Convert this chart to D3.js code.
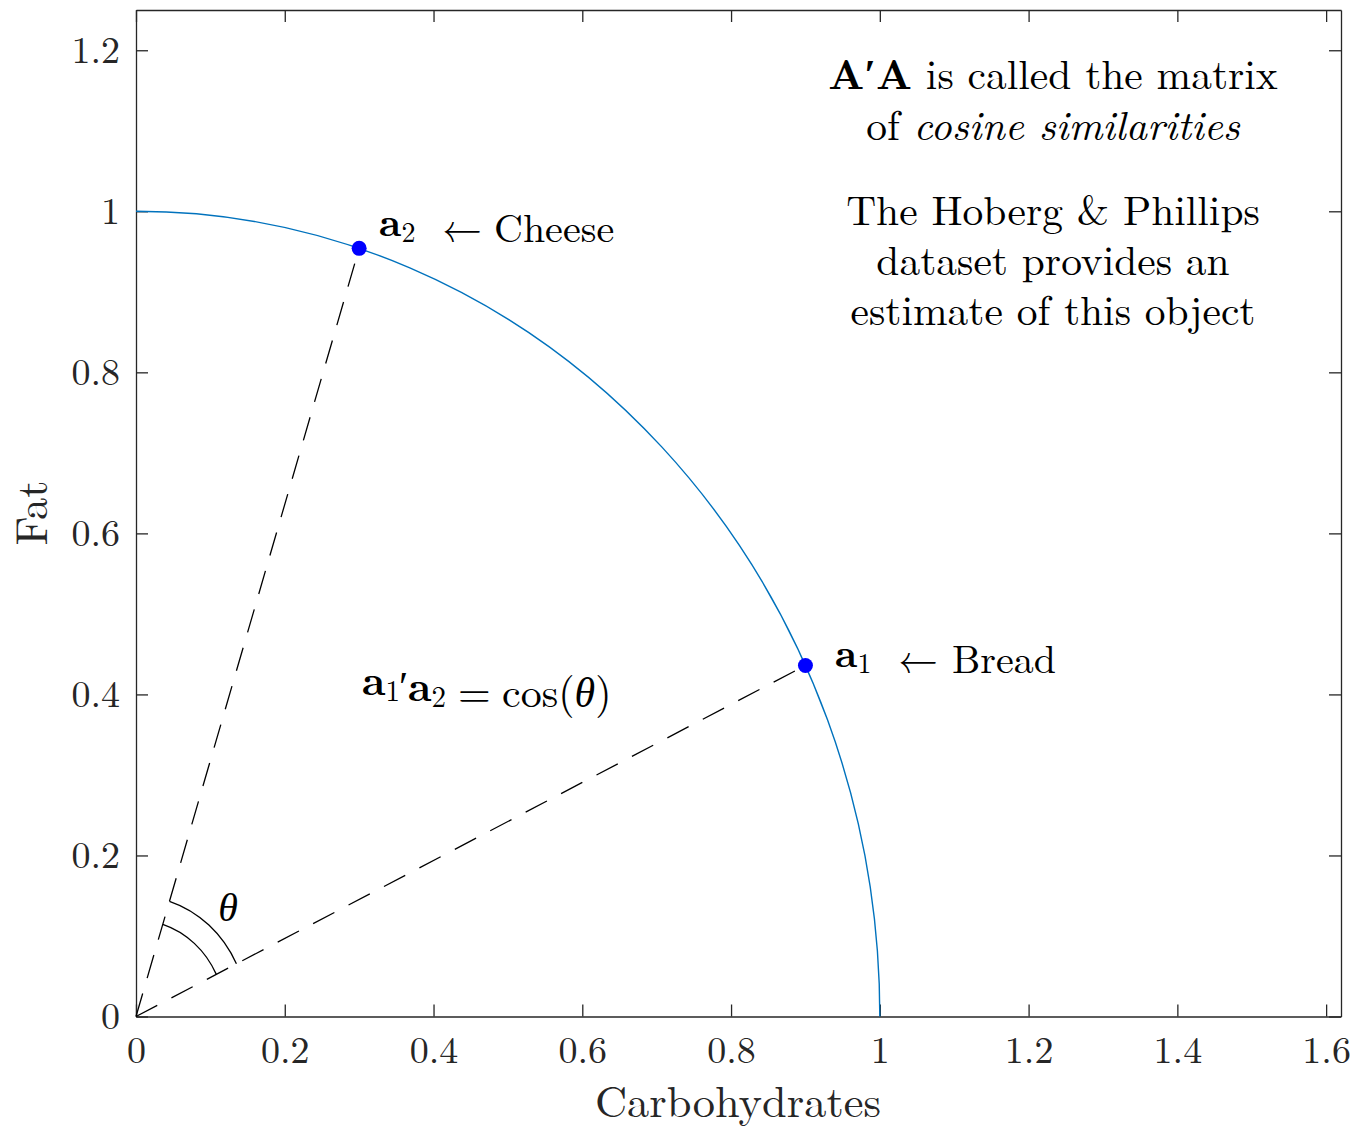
<!DOCTYPE html>
<meta charset="utf-8">
<title>cosine similarity</title>
<body>
<script src="https://cdn.jsdelivr.net/npm/d3@7"></script>
<style>
html, body {
    margin: 0;
    background: #fff;
}
svg {
    display: block;
    font-family: "Latin Modern Roman", "CMU Serif", "Liberation Serif", serif;
}
.axis path, .axis line {
    stroke: #262626;
    stroke-width: 1.3;
}
.axis text {
    fill: #262626;
    font-size: 38px;
    font-family: "Latin Modern Roman", "CMU Serif", "Liberation Serif", serif;
}
</style>
<script>
var width = 1357,
    height = 1128;

// vectors (normalised): carbohydrates vs fat
var itemNames = ["Bread", "Cheese"],
    itemIndex = ["1", "2"],
    carbs = [0.9, 0.3],
    fat = [0.436, 0.954];

var xTicks = [0, 0.2, 0.4, 0.6, 0.8, 1, 1.2, 1.4, 1.6],
    yTicks = [0, 0.2, 0.4, 0.6, 0.8, 1, 1.2],
    arcRadii = [0.12, 0.15];

var x = d3.scaleLinear().domain([0, 1.62]).range([136, 1341]),
    y = d3.scaleLinear().domain([0, 1.25]).range([1016.5, 10]);

var svg = d3.select("body").append("svg")
    .attr("width", width)
    .attr("height", height)
    .style("background", "#fff");

var fmt = d3.format(".1~f");

// axes, ticks inward on all four sides
svg.append("g").attr("class", "axis")
    .attr("transform", "translate(0," + y(0) + ")")
    .call(d3.axisBottom(x).tickValues(xTicks).tickFormat(fmt)
        .tickSizeInner(-12).tickSizeOuter(0).tickPadding(20));
svg.append("g").attr("class", "axis")
    .attr("transform", "translate(0," + y(1.25) + ")")
    .call(d3.axisTop(x).tickValues(xTicks).tickFormat("")
        .tickSizeInner(-12).tickSizeOuter(0));
svg.append("g").attr("class", "axis")
    .attr("transform", "translate(" + x(0) + ",0)")
    .call(d3.axisLeft(y).tickValues(yTicks).tickFormat(fmt)
        .tickSizeInner(-12).tickSizeOuter(0).tickPadding(16));
svg.append("g").attr("class", "axis")
    .attr("transform", "translate(" + x(1.62) + ",0)")
    .call(d3.axisRight(y).tickValues(yTicks).tickFormat("")
        .tickSizeInner(-12).tickSizeOuter(0));
svg.selectAll(".axis .domain").attr("fill", "none");

// axis labels
svg.append("text")
    .attr("x", 738).attr("y", 1117)
    .attr("text-anchor", "middle")
    .attr("font-size", 44.5).attr("fill", "#262626")
    .text("Carbohydrates");
svg.append("text")
    .attr("transform", "translate(47,513) rotate(-90)")
    .attr("text-anchor", "middle")
    .attr("font-size", 44.5).attr("fill", "#262626")
    .text("Fat");

// unit circle (quarter)
var rx1 = x(1) - x(0), ry1 = y(0) - y(1);
svg.append("path")
    .attr("d", "M" + x(0) + "," + y(1) + "A" + rx1 + "," + ry1 + " 0 0 1 " + x(1) + "," + y(0))
    .attr("fill", "none")
    .attr("stroke", "#0072BD")
    .attr("stroke-width", 1.4);

// dashed vectors from origin
svg.selectAll(".vec")
    .data(d3.range(carbs.length))
    .enter().append("line")
    .attr("class", "vec")
    .attr("x1", x(0)).attr("y1", y(0))
    .attr("x2", function(i) { return x(carbs[i]); })
    .attr("y2", function(i) { return y(fat[i]); })
    .attr("stroke", "#000")
    .attr("stroke-width", 1.3)
    .attr("stroke-dasharray", "24,16");

// angle arcs
var t1 = Math.atan2(fat[0], carbs[0]),
    t2 = Math.atan2(fat[1], carbs[1]);
svg.selectAll(".ang")
    .data(arcRadii)
    .enter().append("path")
    .attr("class", "ang")
    .attr("d", function(r) {
        var rx = x(r) - x(0), ry = y(0) - y(r);
        return "M" + x(r * Math.cos(t2)) + "," + y(r * Math.sin(t2)) +
            "A" + rx + "," + ry + " 0 0 1 " + x(r * Math.cos(t1)) + "," + y(r * Math.sin(t1));
    })
    .attr("fill", "none")
    .attr("stroke", "#000")
    .attr("stroke-width", 1.3);

svg.append("text")
    .attr("x", 228).attr("y", 921)
    .attr("text-anchor", "middle")
    .attr("font-size", 40).attr("font-style", "italic")
    .text("θ");

// points
svg.selectAll(".pt")
    .data(d3.range(carbs.length))
    .enter().append("circle")
    .attr("class", "pt")
    .attr("cx", function(i) { return x(carbs[i]); })
    .attr("cy", function(i) { return y(fat[i]); })
    .attr("r", 7.5)
    .attr("fill", "#0000ff");

// point labels: [a start, arrow start, name start, baseline]
var labelPos = [[835, 898, 952, 667], [379, 442, 494, 236]];

function vecName(sel, x0, sub, subSize) {
    sel.append("tspan").attr("x", x0).attr("font-weight", "bold").text("a");
    sel.append("tspan").attr("font-size", subSize).attr("dy", 6).text(sub);
    sel.append("tspan").attr("dy", -6).text("");
}

itemNames.forEach(function(name, i) {
    var p = labelPos[i];
    var t = svg.append("text").attr("y", p[3]).attr("font-size", 40);
    vecName(t, p[0], itemIndex[i], 28);
    t.append("tspan").attr("x", p[1]).text("←");
    t.append("tspan").attr("x", p[2]).text(name);
});

// inner product equation
var eq = svg.append("text").attr("y", 695).attr("font-size", 42);
vecName(eq, 362, "1", 29);
eq.append("tspan").attr("x", 399).text("′");
vecName(eq, 408, "2", 29);
eq.append("tspan").attr("x", 458).text("=");
eq.append("tspan").attr("x", 502).text("cos(");
eq.append("tspan").attr("font-style", "italic").text("θ");
eq.append("tspan").text(")");

// text box, top right
var boxLines = [
    [["A′A", "bold"], [" is called the matrix", ""]],
    [["of ", ""], ["cosine similarities", "italic"]],
    [["The Hoberg & Phillips", ""]],
    [["dataset provides an", ""]],
    [["estimate of this object", ""]]
];
var boxBase = [89, 140, 225, 275, 325];

boxLines.forEach(function(parts, i) {
    var t = svg.append("text")
        .attr("x", 1053).attr("y", boxBase[i])
        .attr("text-anchor", "middle")
        .attr("font-size", 41.5)
        .style("white-space", "pre");
    parts.forEach(function(p) {
        var s = t.append("tspan").text(p[0]);
        if (p[1] == "bold") s.attr("font-weight", "bold");
        if (p[1] == "italic") s.attr("font-style", "italic");
    });
});
</script>
